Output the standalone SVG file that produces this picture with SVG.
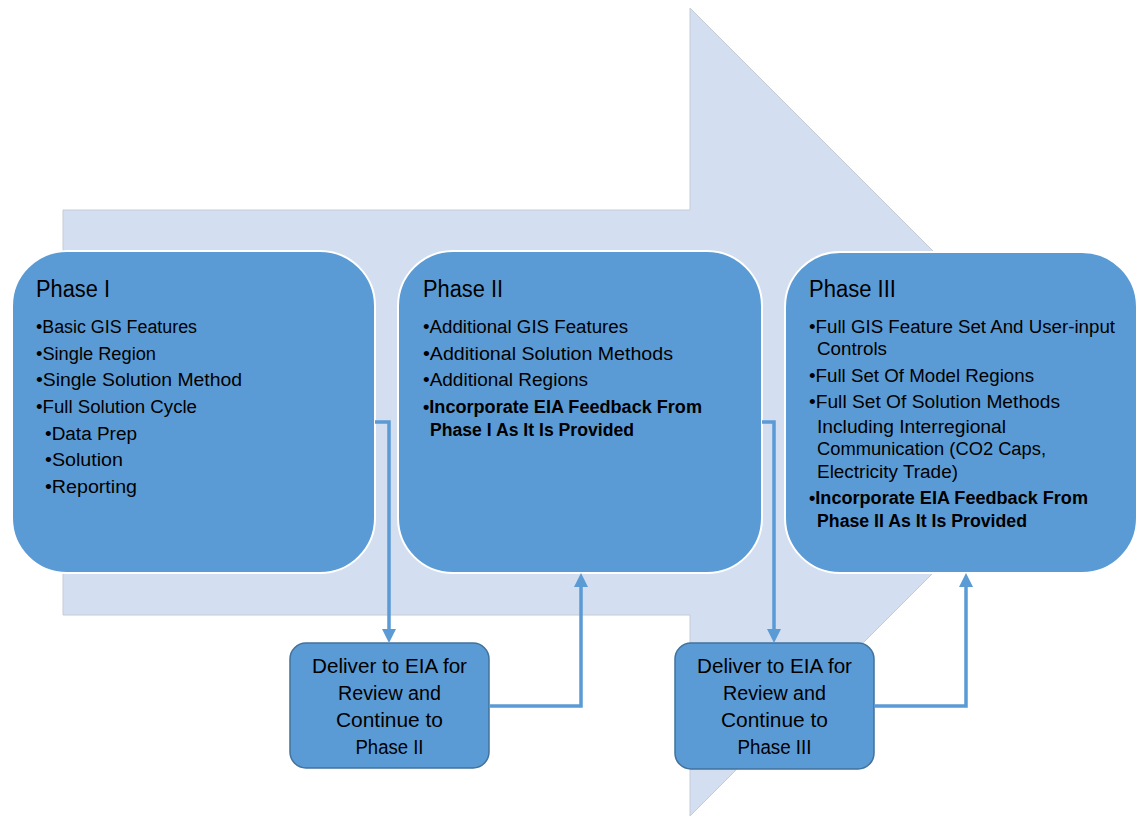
<svg xmlns="http://www.w3.org/2000/svg" width="1138" height="817" viewBox="0 0 1138 817">
<style>
  .bg { fill: #d3dff0; stroke: #c4ccd6; stroke-width: 1; }
  .phase { fill: #5b9bd5; stroke: #ffffff; stroke-width: 2; }
  .step { fill: #5b9bd5; stroke: #41719c; stroke-width: 1.5; }
  .t { font-family: "Liberation Sans", Arial, sans-serif; fill: #000; }
  .title { font-size: 23px; }
  .item { font-size: 18px; }
  .b { font-weight: bold; }
  .step-t { font-size: 19.5px; text-anchor: middle; }
  .conn { fill: none; stroke: #5b9bd5; stroke-width: 3.5; }
</style>
<defs>
  <marker id="arr" markerUnits="userSpaceOnUse" markerWidth="14" markerHeight="14" viewBox="0 0 14 14" refX="0" refY="7" orient="auto">
    <path d="M0,0 L14,7 L0,14 z" fill="#5b9bd5"/>
  </marker>
</defs>

<g id="background-arrow">
  <polygon class="bg" points="63,210 690,210 690,8 1094,412 690,816 690,615 63,615"/>
</g>

<g id="phase1">
  <rect class="phase" x="12" y="251" width="363" height="322" rx="55" ry="55"/>
  <text class="t title" x="36" y="297" textLength="74" lengthAdjust="spacingAndGlyphs">Phase I</text>
  <text class="t item" x="36" y="333" textLength="161" lengthAdjust="spacingAndGlyphs">•Basic GIS Features</text>
  <text class="t item" x="36" y="360" textLength="120" lengthAdjust="spacingAndGlyphs">•Single Region</text>
  <text class="t item" x="36" y="386" textLength="206" lengthAdjust="spacingAndGlyphs">•Single Solution Method</text>
  <text class="t item" x="36" y="413" textLength="161" lengthAdjust="spacingAndGlyphs">•Full Solution Cycle</text>
  <text class="t item" x="45" y="440" textLength="92" lengthAdjust="spacingAndGlyphs">•Data Prep</text>
  <text class="t item" x="45" y="466" textLength="78" lengthAdjust="spacingAndGlyphs">•Solution</text>
  <text class="t item" x="45" y="493" textLength="92" lengthAdjust="spacingAndGlyphs">•Reporting</text>
</g>

<g id="phase2">
  <rect class="phase" x="398" y="251" width="364" height="322" rx="55" ry="55"/>
  <text class="t title" x="423" y="297" textLength="80" lengthAdjust="spacingAndGlyphs">Phase II</text>
  <text class="t item" x="423" y="333" textLength="205" lengthAdjust="spacingAndGlyphs">•Additional GIS Features</text>
  <text class="t item" x="423" y="360" textLength="250" lengthAdjust="spacingAndGlyphs">•Additional Solution Methods</text>
  <text class="t item" x="423" y="386" textLength="165" lengthAdjust="spacingAndGlyphs">•Additional Regions</text>
  <text class="t item b" x="423" y="413" textLength="279" lengthAdjust="spacingAndGlyphs">•Incorporate EIA Feedback From</text>
  <text class="t item b" x="430" y="436" textLength="204" lengthAdjust="spacingAndGlyphs">Phase I As It Is Provided</text>
</g>

<g id="phase3">
  <rect class="phase" x="785" y="252" width="352" height="321" rx="55" ry="55"/>
  <text class="t title" x="809" y="297" textLength="87" lengthAdjust="spacingAndGlyphs">Phase III</text>
  <text class="t item" x="809" y="333" textLength="306" lengthAdjust="spacingAndGlyphs">•Full GIS Feature Set And User-input</text>
  <text class="t item" x="817" y="355" textLength="70" lengthAdjust="spacingAndGlyphs">Controls</text>
  <text class="t item" x="809" y="382" textLength="225" lengthAdjust="spacingAndGlyphs">•Full Set Of Model Regions</text>
  <text class="t item" x="809" y="408" textLength="251" lengthAdjust="spacingAndGlyphs">•Full Set Of Solution Methods</text>
  <text class="t item" x="817" y="433" textLength="189" lengthAdjust="spacingAndGlyphs">Including Interregional</text>
  <text class="t item" x="817" y="455" textLength="229" lengthAdjust="spacingAndGlyphs">Communication (CO2 Caps,</text>
  <text class="t item" x="817" y="478" textLength="141" lengthAdjust="spacingAndGlyphs">Electricity Trade)</text>
  <text class="t item b" x="809" y="504" textLength="279" lengthAdjust="spacingAndGlyphs">•Incorporate EIA Feedback From</text>
  <text class="t item b" x="817" y="527" textLength="210" lengthAdjust="spacingAndGlyphs">Phase II As It Is Provided</text>
</g>

<g id="deliver1">
  <rect class="step" x="290" y="643" width="199" height="125" rx="16" ry="16"/>
  <text class="t step-t" x="389.5" y="673" textLength="155" lengthAdjust="spacingAndGlyphs">Deliver to EIA for</text>
  <text class="t step-t" x="389.5" y="700" textLength="103" lengthAdjust="spacingAndGlyphs">Review and</text>
  <text class="t step-t" x="389.5" y="727" textLength="107" lengthAdjust="spacingAndGlyphs">Continue to</text>
  <text class="t step-t" x="389.5" y="754" textLength="68" lengthAdjust="spacingAndGlyphs">Phase II</text>
</g>

<g id="deliver2">
  <rect class="step" x="675" y="643" width="199" height="126" rx="16" ry="16"/>
  <text class="t step-t" x="774.5" y="673" textLength="155" lengthAdjust="spacingAndGlyphs">Deliver to EIA for</text>
  <text class="t step-t" x="774.5" y="700" textLength="103" lengthAdjust="spacingAndGlyphs">Review and</text>
  <text class="t step-t" x="774.5" y="727" textLength="107" lengthAdjust="spacingAndGlyphs">Continue to</text>
  <text class="t step-t" x="774.5" y="754" textLength="74" lengthAdjust="spacingAndGlyphs">Phase III</text>
</g>

<g id="connectors">
  <path class="conn" d="M375,422 H389 V629" marker-end="url(#arr)"/>
  <path class="conn" d="M489,706 H581 V587" marker-end="url(#arr)"/>
  <path class="conn" d="M762,422 H774 V629" marker-end="url(#arr)"/>
  <path class="conn" d="M874,706 H966 V587" marker-end="url(#arr)"/>
</g>
</svg>
